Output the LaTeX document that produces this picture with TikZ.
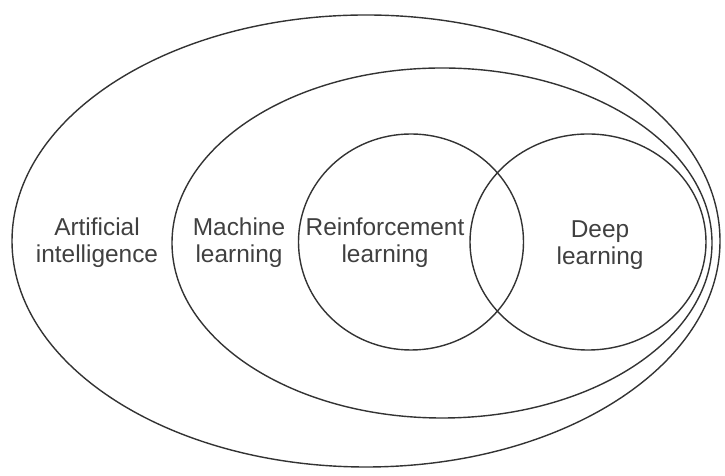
\documentclass[tikz,border=0pt]{standalone}
\usepackage{fontspec}
\setmainfont{Liberation Sans}
\usepackage{tikz}
\usetikzlibrary{shapes.geometric}
\usetikzlibrary{positioning}

\tikzset{
  field/.style={ellipse, draw=black!80, line width=1.4bp, inner sep=0pt},
  label/.style={align=center, text=black!75, font=\fontsize{24.5}{27}\selectfont, inner sep=1bp}
}

\begin{document}
\begin{tikzpicture}[x=1bp, y=1bp]

  \useasboundingbox (0,0) rectangle (725,476);

  % Define nodes
  \node[field, minimum width=708bp, minimum height=452bp] (ai) at (366,235) {};
  \node[field, minimum width=540bp, minimum height=350bp] (ml) at (442,233) {};
  \node[field, minimum width=225bp, minimum height=216bp] (rl) at (411,234) {};
  \node[field, minimum width=236bp, minimum height=216bp] (dl) at (588,234) {};

  % Labels
  \node[label] (aitext) at (97,233) {Artificial\\intelligence};
  \node[label] (mltext) at (239,233) {Machine\\learning};
  \node[label] (rltext) at (385,233) {Reinforcement\\learning};
  \node[label] (dltext) at (600,231) {Deep\\learning};

\end{tikzpicture}
\end{document}
